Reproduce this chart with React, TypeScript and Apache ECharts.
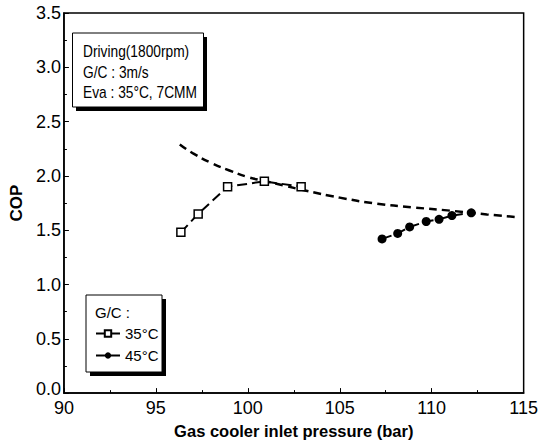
import React, { useEffect, useRef } from "react";
import * as echarts from "echarts";

const xTicks = [90, 95, 100, 105, 110, 115];
const yTickStep = 0.5;

const p35 = [96.36, 97.3, 98.9, 100.9, 102.9];
const cop35 = [1.48, 1.65, 1.9, 1.95, 1.9];

const p45 = [107.3, 108.15, 108.8, 109.7, 110.4, 111.1, 112.15];
const cop45 = [1.42, 1.47, 1.53, 1.58, 1.6, 1.635, 1.66];

const pCurve = [96.3, 97, 98, 99, 100, 101, 102, 103, 105, 107, 109, 111, 113, 114.7];
const copCurve = [2.29, 2.21, 2.12, 2.05, 1.99, 1.95, 1.91, 1.87, 1.8, 1.745, 1.71, 1.68, 1.645, 1.62];

const infoLines = ["Driving(1800rpm)", "G/C : 3m/s", "Eva : 35°C, 7CMM"];
const legendTitle = "G/C :";
const seriesNames = ["35°C", "45°C"];

const FONT = "'Liberation Sans', Arial, Helvetica, sans-serif";

export default function App() {
  const ref = useRef<HTMLDivElement>(null);
  useEffect(() => {
    if (!ref.current) return;
    const chart = echarts.init(ref.current, undefined, { renderer: "svg" });
    const zip = (a: number[], b: number[]) => a.map((v, i) => [v, b[i]]);
    chart.setOption({
      animation: false,
      backgroundColor: "#fff",
      textStyle: { fontFamily: FONT, color: "#000" },
      grid: {
        left: 58,
        right: 16,
        top: 13,
        bottom: 41,
        show: true,
        borderColor: "#000",
        borderWidth: 1.5,
        backgroundColor: "transparent",
      },
      xAxis: {
        type: "value",
        min: xTicks[0],
        max: xTicks[xTicks.length - 1],
        interval: 5,
        name: "Gas cooler inlet pressure (bar)",
        nameLocation: "middle",
        nameGap: 22,
        nameTextStyle: { fontSize: 16.5, fontWeight: "bold", color: "#000", fontFamily: FONT },
        axisLine: { show: true, lineStyle: { color: "#000", width: 1.5 } },
        axisTick: { show: true, inside: true, length: 5, lineStyle: { color: "#000" } },
        minorTick: { show: true, splitNumber: 2, length: 3, lineStyle: { color: "#000" } },
        axisLabel: { fontSize: 18, color: "#000", margin: 6, fontFamily: FONT },
        splitLine: { show: false },
      },
      yAxis: {
        type: "value",
        min: 0,
        max: 3.5,
        interval: yTickStep,
        name: "COP",
        nameLocation: "middle",
        nameGap: 35,
        nameTextStyle: { fontSize: 17, fontWeight: "bold", color: "#000", fontFamily: FONT },
        axisLine: { show: true, lineStyle: { color: "#000", width: 1.5 } },
        axisTick: { show: true, inside: true, length: 5, lineStyle: { color: "#000" } },
        minorTick: { show: true, splitNumber: 2, length: 3, lineStyle: { color: "#000" } },
        axisLabel: {
          fontSize: 18,
          color: "#000",
          margin: 3,
          fontFamily: FONT,
          formatter: (v: number) => (v === 0 ? "{z|" + v.toFixed(1) + "}" : v.toFixed(1)),
          rich: {
            z: { fontSize: 18, color: "#000", fontFamily: FONT, padding: [0, 0, 9, 0] },
          },
        },
        splitLine: { show: false },
      },
      legend: {
        data: seriesNames,
        orient: "vertical",
        left: 95,
        top: 326,
        padding: 0,
        itemWidth: 24,
        itemHeight: 8,
        itemGap: 7,
        textStyle: { fontSize: 15, color: "#000", fontFamily: FONT },
        z: 10,
      },
      graphic: [
        { type: "rect", shape: { x: 76, y: 37, width: 131, height: 74 }, style: { fill: "#000" }, z: 1 },
        { type: "rect", shape: { x: 72.5, y: 33, width: 131, height: 74 }, style: { fill: "#fff", stroke: "#000", lineWidth: 1 }, z: 2 },
        ...infoLines.map((t, i) => ({
          type: "text",
          x: 83,
          y: 51 + i * 20.8,
          scaleX: 0.86,
          z: 3,
          style: { text: t, fontSize: 16, fontFamily: FONT, fill: "#000", align: "left", verticalAlign: "middle" },
        })),
        { type: "rect", shape: { x: 90, y: 299, width: 76, height: 77 }, style: { fill: "#000" }, z: 1 },
        { type: "rect", shape: { x: 86, y: 295, width: 76, height: 77 }, style: { fill: "#fff", stroke: "#000", lineWidth: 1 }, z: 2 },
        {
          type: "text",
          x: 95,
          y: 312,
          z: 3,
          style: { text: legendTitle, fontSize: 15, fontFamily: FONT, fill: "#000", align: "left", verticalAlign: "middle" },
        },
      ],
      series: [
        {
          name: "model",
          type: "line",
          data: zip(pCurve, copCurve),
          smooth: true,
          showSymbol: false,
          symbol: "none",
          lineStyle: { color: "#000", width: 2.5, type: [8, 5] },
          z: 2,
        },
        {
          name: seriesNames[0],
          type: "line",
          data: zip(p35, cop35),
          symbol: "rect",
          symbolSize: 8,
          itemStyle: { color: "#fff", borderColor: "#000", borderWidth: 1.5 },
          lineStyle: { color: "#000", width: 2, type: [10, 5] },
          z: 3,
        },
        {
          name: seriesNames[1],
          type: "line",
          data: zip(p45, cop45),
          symbol: "circle",
          symbolSize: 9,
          itemStyle: { color: "#000", borderColor: "#000", borderWidth: 0 },
          lineStyle: { color: "#000", width: 2, type: [10, 5] },
          z: 3,
        },
      ],
    });
    return () => chart.dispose();
  }, []);
  return <div ref={ref} style={{ width: 541, height: 444, position: "absolute", left: 0, top: 0 }} />;
}
